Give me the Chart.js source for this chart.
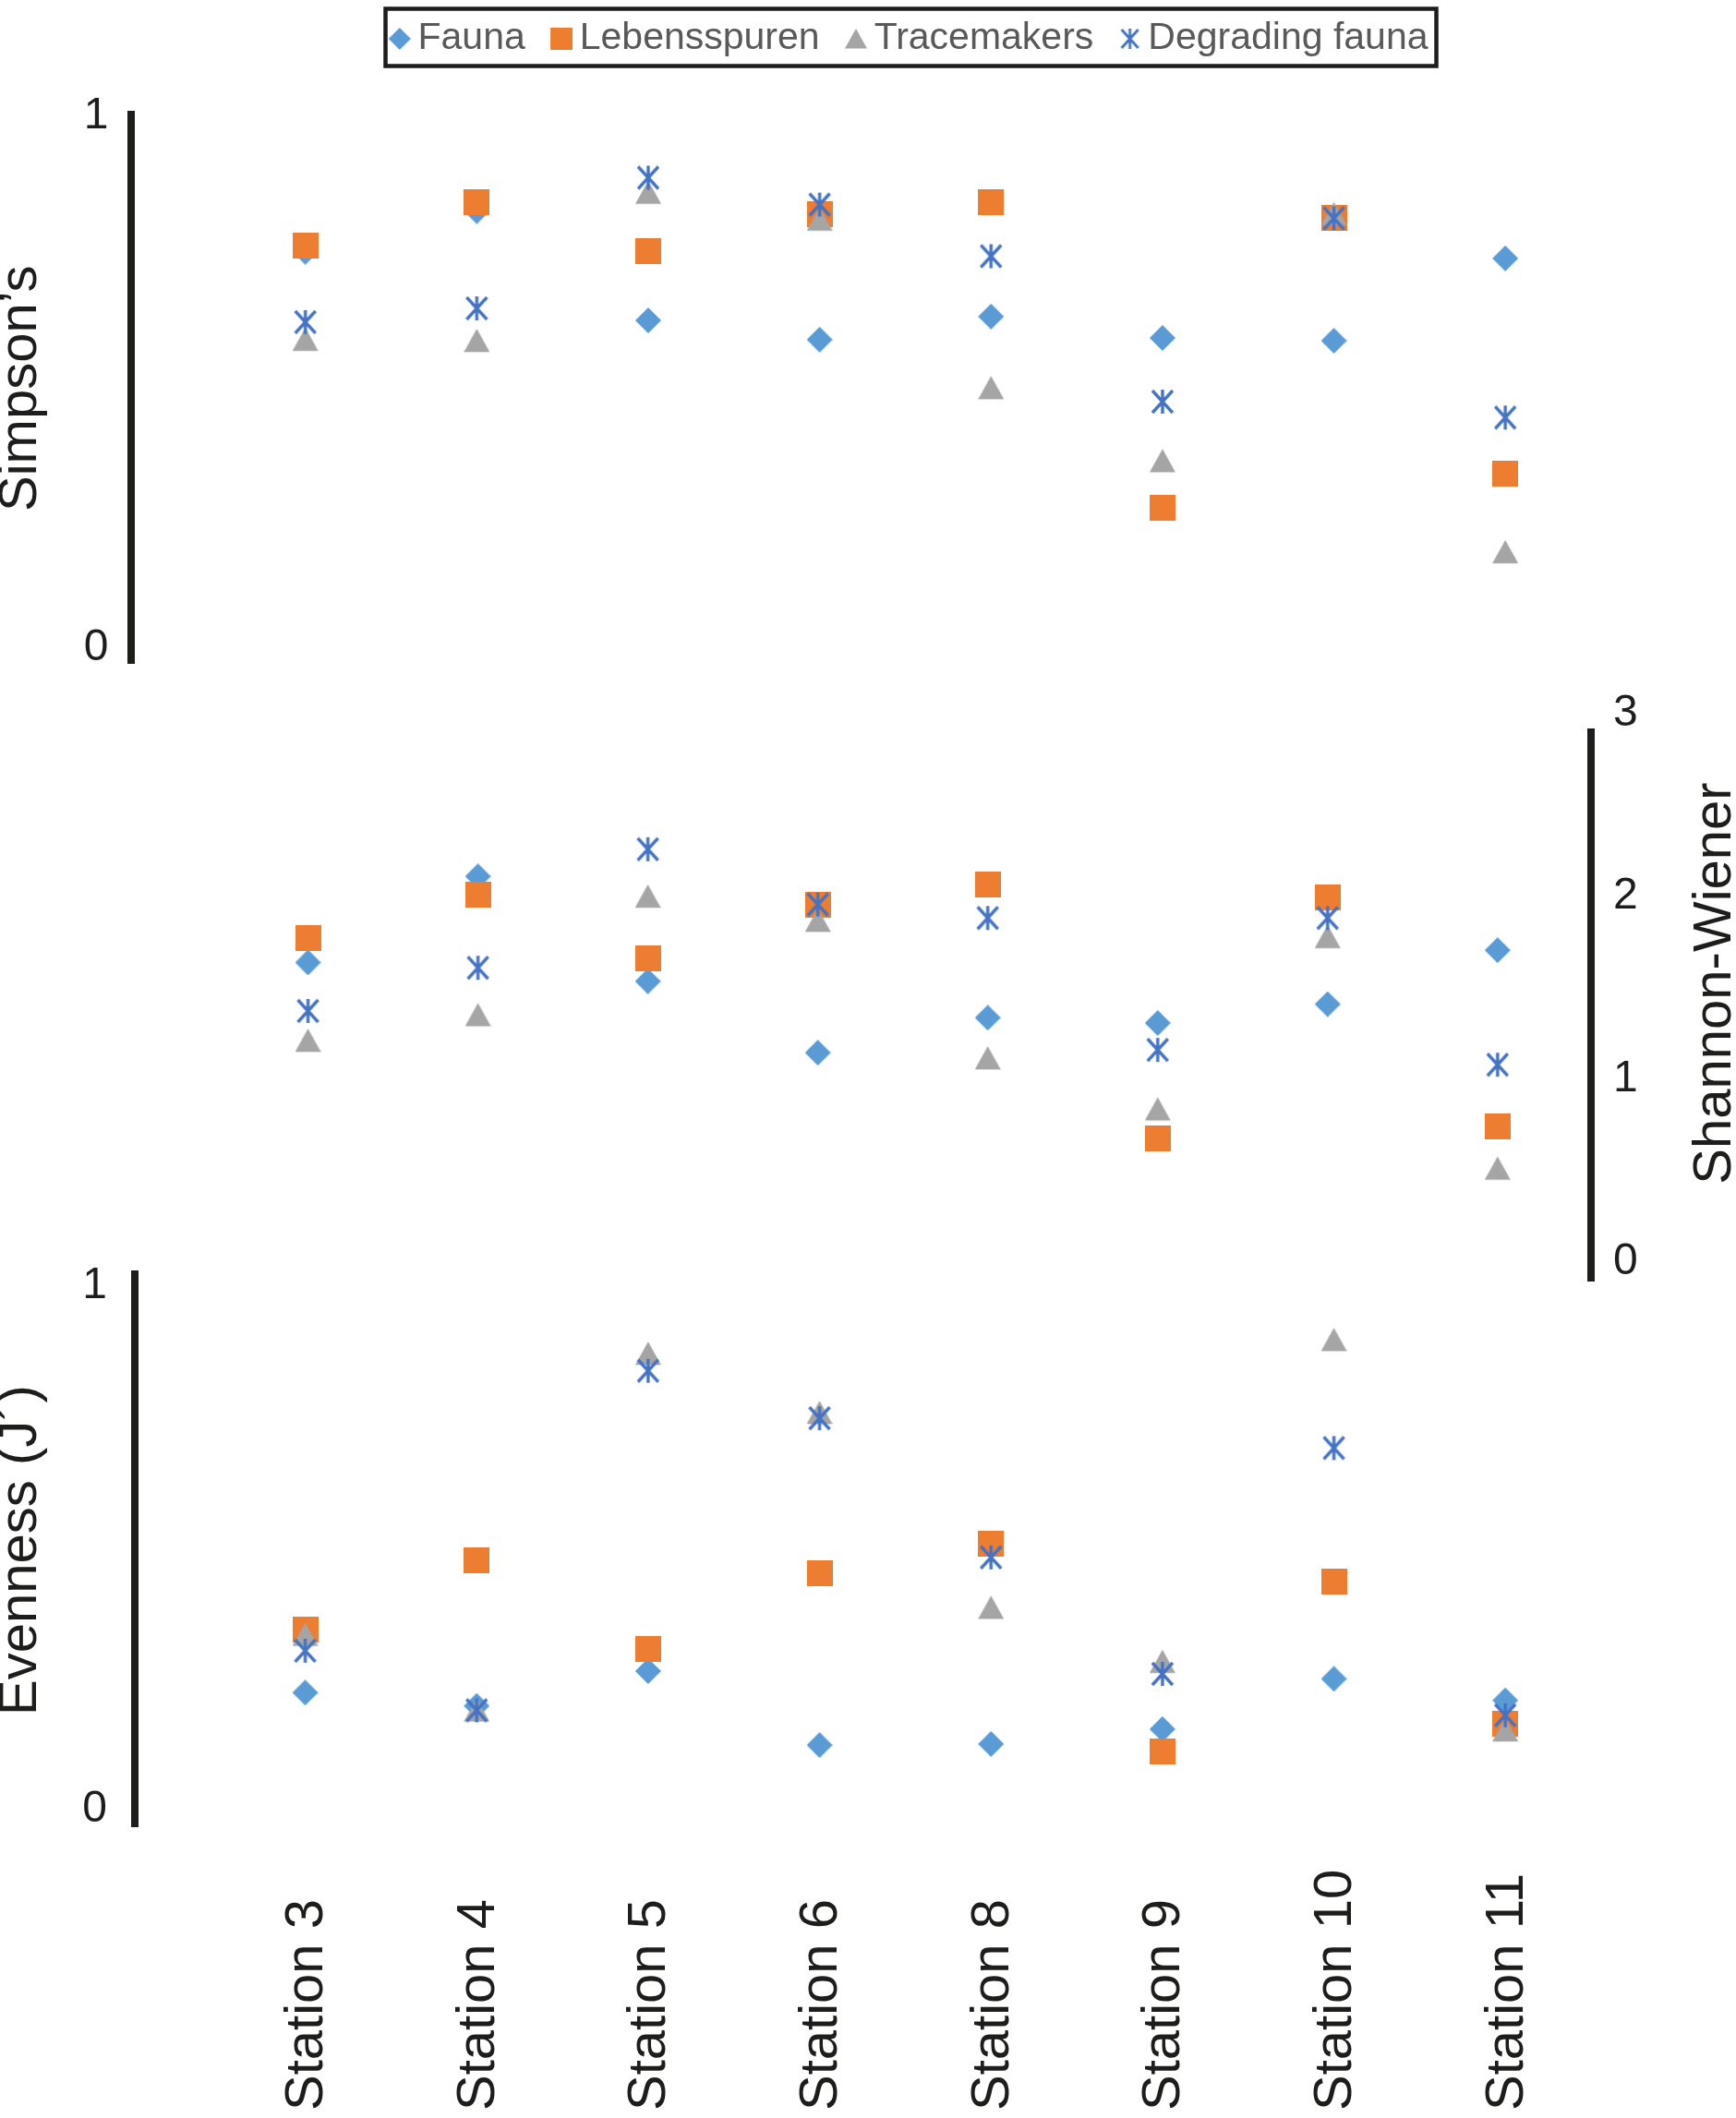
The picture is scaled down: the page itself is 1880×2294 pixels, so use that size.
<!DOCTYPE html>
<html>
<head>
<meta charset="utf-8">
<title>Diversity indices per station</title>
<script src="https://cdn.jsdelivr.net/npm/chart.js@4.4.1/dist/chart.umd.min.js"></script>
<style>
  html, body { margin: 0; padding: 0; background: #fff; overflow: hidden; }
  #page { position: relative; width: 1880px; height: 2294px; overflow: hidden; background: #fff; }
  canvas { position: absolute; left: 0; }
</style>
</head>
<body>
<div id="page">
  <canvas id="simpson" width="1950" height="800" style="top:0"></canvas>
  <canvas id="shannon" width="1880" height="700" style="top:740px"></canvas>
  <canvas id="evenness" width="1880" height="994" style="top:1300px"></canvas>
  <canvas id="stations" width="1880" height="304" style="top:1990px"></canvas>
</div>
<script>
const FONT = "'Liberation Sans', Arial, Helvetica, sans-serif";
const INK = '#1d1d1b';

const stations = ['Station 3', 'Station 4', 'Station 5', 'Station 6', 'Station 8', 'Station 9', 'Station 10', 'Station 11'];
const seriesNames = ['Fauna', 'Lebensspuren', 'Tracemakers', 'Degrading fauna'];
const seriesColors = ['#5b9bd5', '#ed7d31', '#a5a5a5', '#4472c4'];
const seriesShapes = ['diamond', 'square', 'triangle', 'star'];

// Simpson's index
const simpsonFauna = [0.749, 0.823, 0.624, 0.589, 0.631, 0.592, 0.587, 0.737];
const simpsonLebensspuren = [0.761, 0.840, 0.751, 0.818, 0.840, 0.283, 0.810, 0.344];
const simpsonTracemakers = [0.589, 0.587, 0.857, 0.808, 0.501, 0.368, 0.818, 0.202];
const simpsonDegrading = [0.621, 0.646, 0.884, 0.835, 0.741, 0.476, 0.810, 0.447];

// Shannon-Wiener
const shannonFauna = [1.740, 2.211, 1.637, 1.247, 1.438, 1.409, 1.512, 1.807];
const shannonLebensspuren = [1.873, 2.109, 1.762, 2.057, 2.168, 0.776, 2.094, 0.842];
const shannonTracemakers = [1.313, 1.453, 2.101, 1.969, 1.217, 0.938, 1.880, 0.614];
const shannonDegrading = [1.475, 1.711, 2.359, 2.057, 1.983, 1.262, 1.983, 1.181];

// Evenness (J')
const evennessFauna = [0.242, 0.218, 0.281, 0.147, 0.149, 0.176, 0.267, 0.228];
const evennessLebensspuren = [0.357, 0.482, 0.321, 0.458, 0.511, 0.135, 0.443, 0.186];
const evennessTracemakers = [0.347, 0.210, 0.856, 0.749, 0.396, 0.298, 0.881, 0.174];
const evennessDegrading = [0.318, 0.210, 0.825, 0.739, 0.487, 0.276, 0.685, 0.201];

const simpsonTicks = [0, 1];
const shannonTicks = [0, 1, 2, 3];
const evennessTicks = [0, 1];

Chart.defaults.font.family = FONT;
Chart.defaults.color = INK;

// marker sprites (shift leaves empty room on the left, used for legend spacing)
function marker(shape, size, color, shift = 0) {
  const c = document.createElement('canvas');
  c.width = size + 2 * shift;
  c.height = size;
  const g = c.getContext('2d');
  const o = 2 * shift, s = size;
  g.fillStyle = color;
  g.strokeStyle = color;
  g.beginPath();
  if (shape === 'diamond') {
    g.moveTo(o + s / 2, 0); g.lineTo(o + s, s / 2); g.lineTo(o + s / 2, s); g.lineTo(o, s / 2);
    g.closePath(); g.fill();
  } else if (shape === 'square') {
    g.fillRect(o, 0, s, s);
  } else if (shape === 'triangle') {
    g.moveTo(o + s / 2, s * 0.04); g.lineTo(o + s, s * 0.94); g.lineTo(o, s * 0.94);
    g.closePath(); g.fill();
  } else {
    g.lineWidth = Math.max(2, s * 0.12);
    g.moveTo(o + s / 2, 1); g.lineTo(o + s / 2, s - 1);
    g.moveTo(o + 3, 2); g.lineTo(o + s - 3, s - 2);
    g.moveTo(o + s - 3, 2); g.lineTo(o + 3, s - 2);
    g.stroke();
  }
  return c;
}

const dataIcons = seriesShapes.map((sh, i) => marker(sh, 28, seriesColors[i]));
const legendIcons = seriesShapes.map((sh, i) => marker(sh, 24, seriesColors[i], 15));

function datasets(values) {
  return values.map((vals, i) => ({
    label: seriesNames[i],
    data: vals.map((v, k) => ({ x: k, y: v })),
    pointStyle: dataIcons[i],
    pointRadius: 14,
    order: values.length - i   // later series drawn on top
  }));
}

function stationAxis(min, max) {
  return {
    type: 'linear', min, max,
    grid: { display: false, drawTicks: false },
    border: { display: false },
    afterBuildTicks: s => { s.ticks = stations.map((_, i) => ({ value: i })); }
  };
}

// o.lift: the lowest label sits higher than its tick (an empty second line pushes it up)
function valueAxis(o) {
  return {
    type: 'linear', position: o.position,
    min: o.ticks[0], max: o.ticks[o.ticks.length - 1],
    afterBuildTicks: s => { s.ticks = o.ticks.map(v => ({ value: v })); },
    afterFit: s => { s.width = o.width; },
    grid: { display: false, drawTicks: false },
    border: { display: true, color: INK, width: 8 },
    ticks: {
      padding: o.pad, labelOffset: o.shift, color: INK,
      font: { size: 48, lineHeight: o.lift ? o.lift / 24 : 1.2 },
      callback: v => (o.lift && v === o.ticks[0]) ? [String(v), ''] : String(v)
    },
    title: {
      display: !!o.title, text: o.title || '', color: INK,
      font: { size: 58, lineHeight: 1 }, padding: { top: -6, bottom: 0 }
    }
  };
}

const baseOptions = {
  responsive: false,
  animation: false,
  devicePixelRatio: 1,
  events: []
};

// extra room under the legend
const legendGap = {
  id: 'legendGap',
  beforeLayout(chart, args, opts) {
    const lg = chart.legend;
    if (lg && !lg._gapPatched) {
      const fit = lg.fit;
      lg.fit = function () { fit.call(this); this.height += opts.extra; };
      lg._gapPatched = true;
    }
  }
};

// black frame round the legend
const legendFrame = {
  id: 'legendFrame',
  afterDraw(chart) {
    const boxes = chart.legend && chart.legend.legendHitBoxes;
    if (!boxes || !boxes.length) return;
    const ctx = chart.ctx;
    const first = boxes[0], last = boxes[boxes.length - 1];
    const x0 = first.left + 14, x1 = last.left + last.width + 9;
    ctx.save();
    ctx.lineWidth = 4.5;
    ctx.strokeStyle = INK;
    ctx.strokeRect(x0, 9.5, x1 - x0, 62);
    ctx.restore();
  }
};

// right-hand axis title, reading bottom to top
const sideTitle = {
  id: 'sideTitle',
  afterDraw(chart, args, opts) {
    const { ctx, chartArea } = chart;
    ctx.save();
    ctx.font = '58px ' + FONT;
    ctx.fillStyle = INK;
    ctx.textAlign = 'center';
    ctx.textBaseline = 'alphabetic';
    ctx.translate(opts.x, (chartArea.top + chartArea.bottom) / 2 + opts.dy);
    ctx.rotate(-Math.PI / 2);
    ctx.fillText(opts.text, 0, 0);
    ctx.restore();
  }
};

// Simpson's panel + legend
new Chart(document.getElementById('simpson'), {
  type: 'scatter',
  data: { datasets: datasets([simpsonFauna, simpsonLebensspuren, simpsonTracemakers, simpsonDegrading]) },
  options: {
    ...baseOptions,
    layout: { padding: { top: 11.5, left: 0, right: 0, bottom: 82 } },
    scales: {
      x: { ...stationAxis(-1.019, 7.5), display: false },
      y: valueAxis({ position: 'left', ticks: simpsonTicks, width: 141.5, pad: 24, shift: 2, lift: 18, title: 'Simpson\u2019s' }),
      y2: {
        type: 'linear', position: 'right', display: true,
        grid: { display: false, drawTicks: false }, border: { display: false },
        ticks: { display: false },
        afterFit: s => { s.width = 227; }
      }
    },
    plugins: {
      tooltip: { enabled: false },
      legendGap: { extra: 51 },
      legend: {
        position: 'top',
        labels: {
          usePointStyle: true, boxWidth: 28.5, boxHeight: 24, padding: 10,
          color: '#595959', font: { size: 41 },
          generateLabels: chart => chart.data.datasets.map((ds, i) => ({
            text: ds.label, pointStyle: legendIcons[i], fillStyle: seriesColors[i],
            strokeStyle: 'transparent', lineWidth: 0, hidden: false, datasetIndex: i, fontColor: '#595959'
          }))
        }
      }
    }
  },
  plugins: [legendGap, legendFrame]
});

// Shannon-Wiener panel
new Chart(document.getElementById('shannon'), {
  type: 'scatter',
  data: { datasets: datasets([shannonFauna, shannonLebensspuren, shannonTracemakers, shannonDegrading]) },
  options: {
    ...baseOptions,
    layout: { padding: { top: 50, left: 144, right: 0, bottom: 52 } },
    scales: {
      x: { ...stationAxis(-1.03, 7.55), display: false },
      y: valueAxis({ position: 'right', ticks: shannonTicks, width: 157, pad: 24, shift: -20 })
    },
    plugins: {
      tooltip: { enabled: false },
      legend: { display: false },
      sideTitle: { text: 'Shannon-Wiener', x: 1874, dy: -25 }
    }
  },
  plugins: [sideTitle]
});

// Evenness panel
new Chart(document.getElementById('evenness'), {
  type: 'scatter',
  data: { datasets: datasets([evennessFauna, evennessLebensspuren, evennessTracemakers, evennessDegrading]) },
  options: {
    ...baseOptions,
    layout: { padding: { top: 80, left: 0, right: 157, bottom: 316 } },
    scales: {
      x: { ...stationAxis(-0.994, 7.5), display: false },
      y: valueAxis({ position: 'left', ticks: evennessTicks, width: 146, pad: 30, shift: 13, lift: 31, title: 'Evenness (J\u00b4)' })
    },
    plugins: {
      tooltip: { enabled: false },
      legend: { display: false }
    }
  }
});

// station names: a top-positioned axis so the rotated names share a common bottom edge
new Chart(document.getElementById('stations'), {
  type: 'scatter',
  data: { datasets: [] },
  options: {
    ...baseOptions,
    layout: { padding: { top: 0, left: 146, right: 157, bottom: 4 } },
    scales: {
      x: {
        ...stationAxis(-0.994, 7.5),
        position: 'top', display: true,
        afterFit: s => { s.height = 296; },
        ticks: {
          autoSkip: false, minRotation: 90, maxRotation: 90, padding: 0, labelOffset: 72,
          color: INK, font: { size: 58 },
          callback: v => stations[v] ?? ''
        }
      },
      y: { display: false, min: 0, max: 1 }
    },
    plugins: {
      tooltip: { enabled: false },
      legend: { display: false }
    }
  }
});
</script>
</body>
</html>
